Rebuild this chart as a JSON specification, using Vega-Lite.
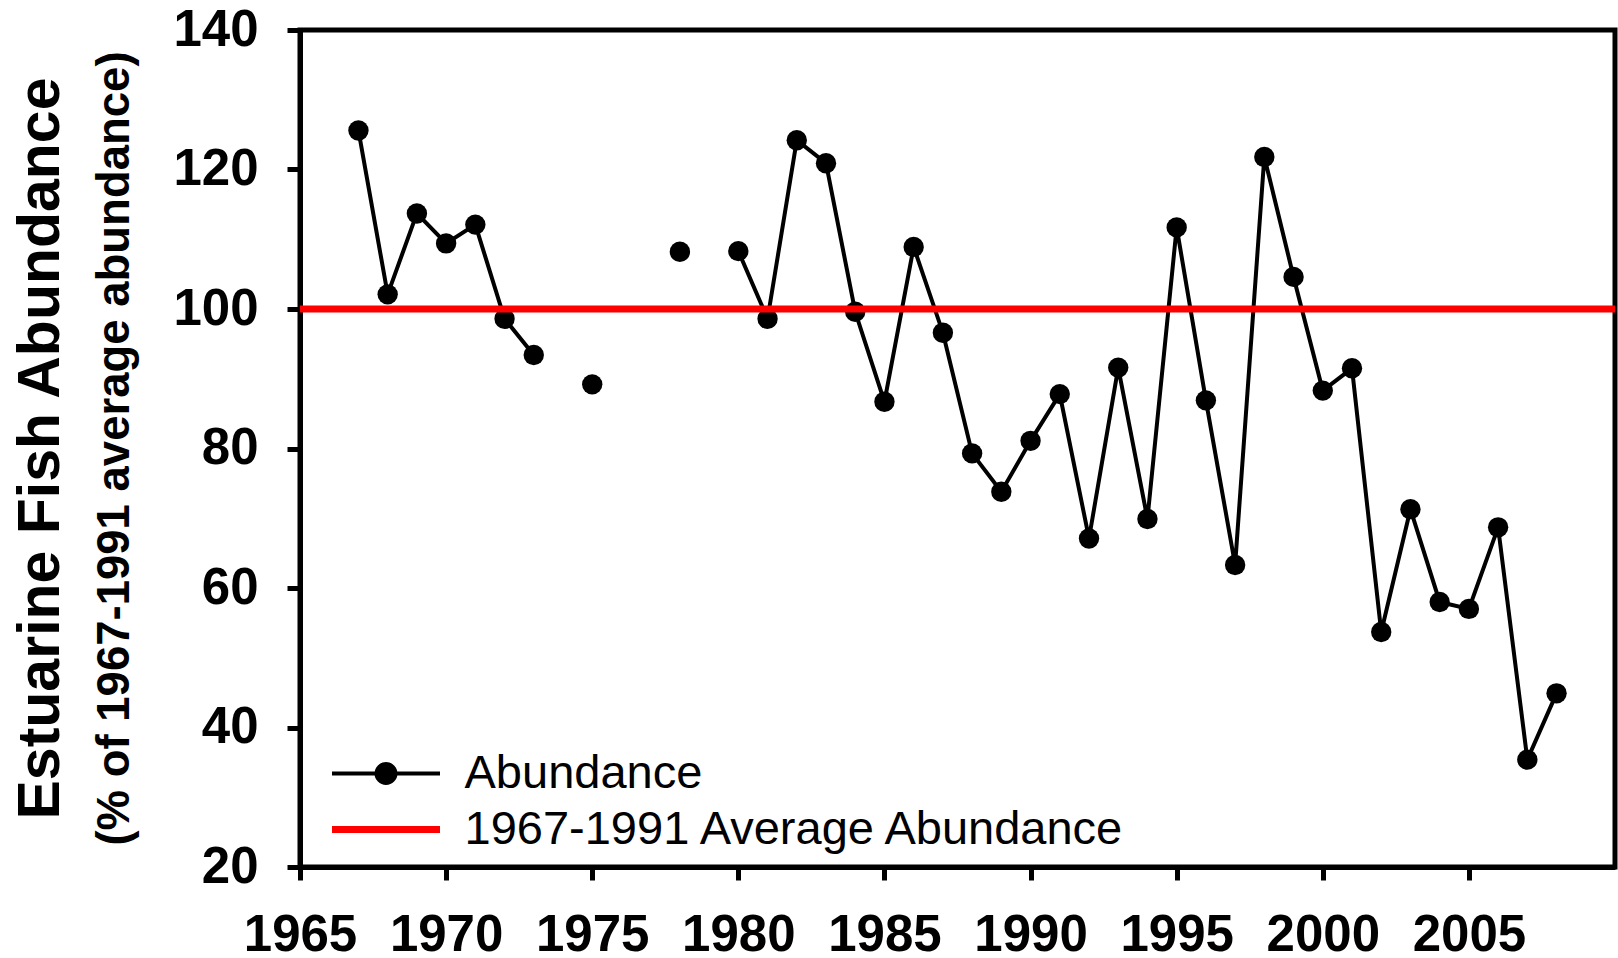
{
  "$schema": "https://vega.github.io/schema/vega-lite/v6.json",
  "width": 1315,
  "height": 837,
  "autosize": {"type": "none"},
  "padding": {"left": 300, "top": 30, "right": 3, "bottom": 91},
  "background": "white",
  "config": {
    "font": "Liberation Sans",
    "view": {"stroke": "black", "strokeWidth": 5},
    "axis": {
      "domainColor": "black", "domainWidth": 5,
      "tickColor": "black", "tickWidth": 5, "tickSize": 13,
      "labelColor": "black", "labelFont": "Liberation Sans", "labelFontWeight": "bold", "labelFontSize": 51,
      "grid": false, "labelFlush": false, "labelOverlap": false
    }
  },
  "title": {
    "text": "Estuarine Fish Abundance",
    "subtitle": "(% of 1967-1991 average abundance)",
    "orient": "left",
    "anchor": "middle",
    "frame": "group",
    "font": "Liberation Sans",
    "fontSize": 59,
    "fontWeight": "bold",
    "color": "black",
    "subtitleFont": "Liberation Sans",
    "subtitleFontSize": 45.5,
    "subtitleFontWeight": "bold",
    "subtitleColor": "black",
    "subtitlePadding": 22,
    "offset": 34
  },
  "data": {
    "values": [
      {"year": 1967, "abundance": 125.6},
      {"year": 1968, "abundance": 102.1},
      {"year": 1969, "abundance": 113.7},
      {"year": 1970, "abundance": 109.4},
      {"year": 1971, "abundance": 112.1},
      {"year": 1972, "abundance": 98.6},
      {"year": 1973, "abundance": 93.4},
      {"year": 1974, "abundance": null},
      {"year": 1975, "abundance": 89.2},
      {"year": 1976, "abundance": null},
      {"year": 1977, "abundance": null},
      {"year": 1978, "abundance": 108.2},
      {"year": 1979, "abundance": null},
      {"year": 1980, "abundance": 108.3},
      {"year": 1981, "abundance": 98.6},
      {"year": 1982, "abundance": 124.2},
      {"year": 1983, "abundance": 120.9},
      {"year": 1984, "abundance": 99.6},
      {"year": 1985, "abundance": 86.7},
      {"year": 1986, "abundance": 108.9},
      {"year": 1987, "abundance": 96.6},
      {"year": 1988, "abundance": 79.3},
      {"year": 1989, "abundance": 73.8},
      {"year": 1990, "abundance": 81.1},
      {"year": 1991, "abundance": 87.8},
      {"year": 1992, "abundance": 67.1},
      {"year": 1993, "abundance": 91.6},
      {"year": 1994, "abundance": 69.9},
      {"year": 1995, "abundance": 111.7},
      {"year": 1996, "abundance": 86.9},
      {"year": 1997, "abundance": 63.3},
      {"year": 1998, "abundance": 121.8},
      {"year": 1999, "abundance": 104.6},
      {"year": 2000, "abundance": 88.3},
      {"year": 2001, "abundance": 91.5},
      {"year": 2002, "abundance": 53.7},
      {"year": 2003, "abundance": 71.3},
      {"year": 2004, "abundance": 58.0},
      {"year": 2005, "abundance": 57.0},
      {"year": 2006, "abundance": 68.7},
      {"year": 2007, "abundance": 35.4},
      {"year": 2008, "abundance": 44.9}
    ]
  },
  "encoding": {
    "x": {
      "field": "year", "type": "quantitative",
      "scale": {"domain": [1965, 2010], "nice": false, "zero": false},
      "axis": {"title": null, "values": [1965, 1970, 1975, 1980, 1985, 1990, 1995, 2000, 2005], "format": "d", "labelPadding": 30}
    },
    "y": {
      "field": "abundance", "type": "quantitative",
      "scale": {"domain": [20, 140], "nice": false, "zero": false},
      "axis": {"title": null, "values": [20, 40, 60, 80, 100, 120, 140], "labelPadding": 29}
    }
  },
  "layer": [
    {
      "mark": {"type": "line", "strokeWidth": 4, "invalid": "break-paths-show-domains"},
      "encoding": {
        "color": {
          "datum": "Abundance",
          "scale": {"domain": ["Abundance", "1967-1991 Average Abundance"], "range": ["black", "#ff0000"]},
          "legend": {
            "title": null,
            "orient": "none",
            "legendX": 30,
            "legendY": 720,
            "padding": 0,
            "labelFont": "Liberation Sans",
            "labelFontSize": 47,
            "labelFontWeight": "normal",
            "labelColor": "black",
            "labelLimit": 1000,
            "symbolSize": 576,
            "symbolOffset": 32.5,
            "labelOffset": 55,
            "rowPadding": 8,
            "encode": {
              "symbols": {
                "update": {
                  "shape": {"signal": "datum.value === 'Abundance' ? 'M-4.5,0H4.5M0.79,0A0.79,0.79 0 1,1 -0.79,0A0.79,0.79 0 1,1 0.79,0' : 'M-4.5,0H4.5'"},
                  "fill": {"signal": "datum.value === 'Abundance' ? 'black' : 'transparent'"},
                  "strokeWidth": {"signal": "datum.value === 'Abundance' ? 4 : 7"},
                  "opacity": {"value": 1}
                }
              }
            }
          }
        }
      }
    },
    {
      "mark": {"type": "point", "filled": true, "size": 415, "color": "black", "opacity": 1}
    },
    {
      "data": {"values": [{"avg": 100}]},
      "mark": {"type": "rule", "strokeWidth": 7},
      "encoding": {
        "x": null,
        "y": {"field": "avg", "type": "quantitative"},
        "color": {"datum": "1967-1991 Average Abundance"}
      }
    }
  ]
}
